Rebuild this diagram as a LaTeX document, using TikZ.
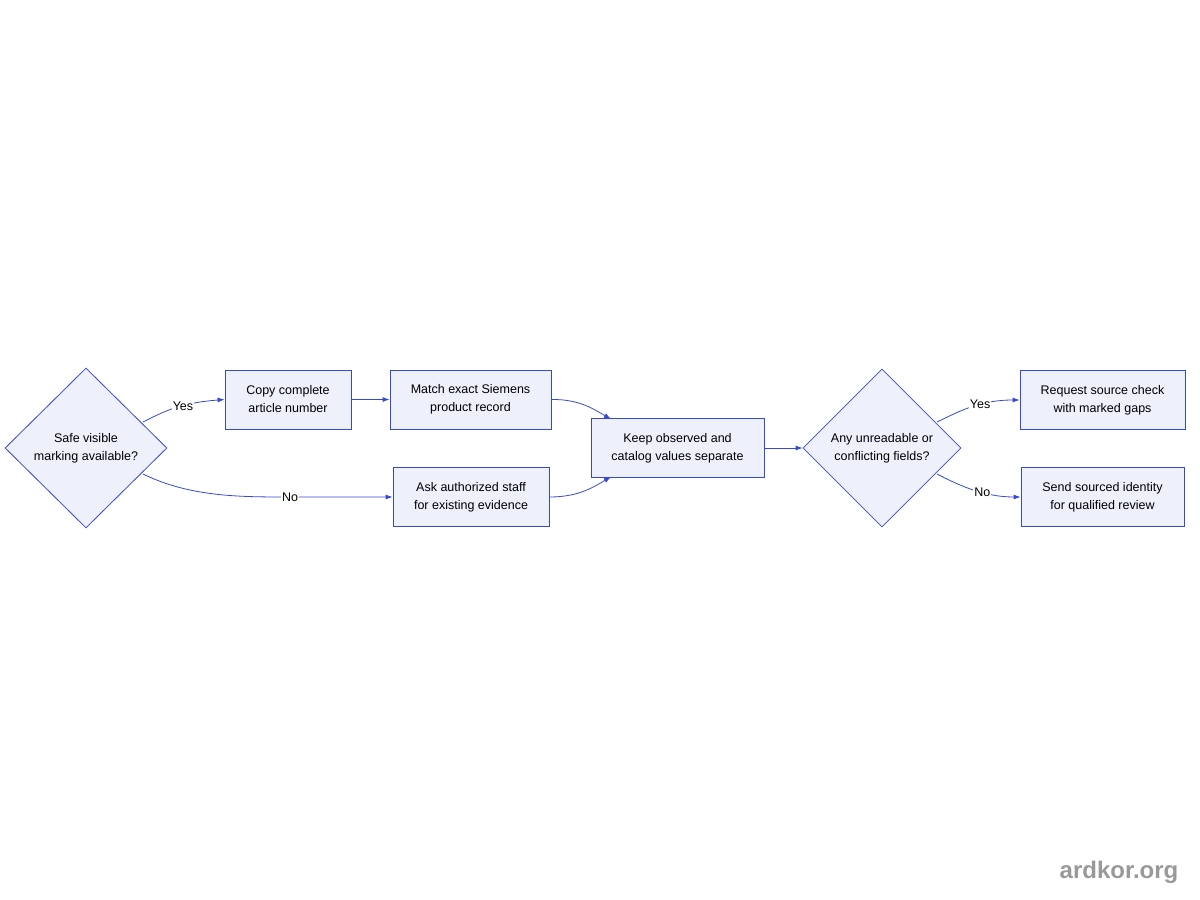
\documentclass[tikz,border=0pt]{standalone}
\usepackage{fontspec}
\setmainfont{Liberation Sans}
\usetikzlibrary{shapes.geometric,arrows.meta}
\definecolor{bd}{HTML}{3548D6}
\definecolor{fl}{HTML}{EEF0FC}
\begin{document}
\begin{tikzpicture}[x=1pt,y=-1pt,
  box/.style={draw=bd,fill=fl,line width=0.8pt,minimum height=59pt,align=center,inner sep=0pt,font=\fontsize{12.5}{18}\selectfont},
  dia/.style={draw=bd,fill=fl,line width=0.8pt,shape=diamond,inner sep=0pt,align=center,font=\fontsize{12.5}{18}\selectfont},
  con/.style={draw=bd,line width=0.8pt,-{Latex[length=7pt,width=5pt]}},
  lab/.style={fill=white,inner sep=1pt,font=\fontsize{12.5}{14}\selectfont}]
\useasboundingbox (0,0) rectangle (1200,900);
\node[dia,minimum width=162pt,minimum height=160pt] (d1) at (86,448) {Safe visible\\marking available?};
\node[box,minimum width=126pt] (copy) at (288,399.5) {Copy complete\\article number};
\node[box,minimum width=161pt] (match) at (470.5,399.5) {Match exact Siemens\\product record};
\node[box,minimum width=156pt] (ask) at (471,497) {Ask authorized staff\\for existing evidence};
\node[box,minimum width=173pt] (keep) at (677.5,448) {Keep observed and\\catalog values separate};
\node[dia,minimum width=158pt,minimum height=158pt] (d2) at (882,448) {Any unreadable or\\conflicting fields?};
\node[box,minimum width=165pt] (req) at (1102.5,400) {Request source check\\with marked gaps};
\node[box,minimum width=163pt] (send) at (1102.5,497) {Send sourced identity\\for qualified review};
\node[font=\bfseries\fontsize{24}{28}\selectfont,text=gray!80] (wm) at (1119,872) {ardkor.org};
\coordinate (d1y) at (143,422);
\coordinate (d1n) at (143,474);
\coordinate (d2y) at (937,422);
\coordinate (d2n) at (937,474);
\draw[con] (d1y) .. controls (165,411) and (180,403) .. (copy.west) node[lab,pos=0.6] {Yes};
\draw[con] (d1n) .. controls (190,497) and (240,497) .. (290,497) -- (ask.west) node[lab,pos=0] {No};
\draw[con] (copy.east) -- (match.west);
\draw[con] (match.east) .. controls (580,399) and (595,410) .. (611,419);
\draw[con] (ask.east) .. controls (580,497) and (595,486) .. (611,477);
\draw[con] (keep.east) -- (d2.west);
\draw[con] (d2y) .. controls (960,411) and (980,400) .. (req.west) node[lab,pos=0.6] {Yes};
\draw[con] (d2n) .. controls (960,486) and (985,497) .. (send.west) node[lab,pos=0.6] {No};
\end{tikzpicture}
\end{document}
